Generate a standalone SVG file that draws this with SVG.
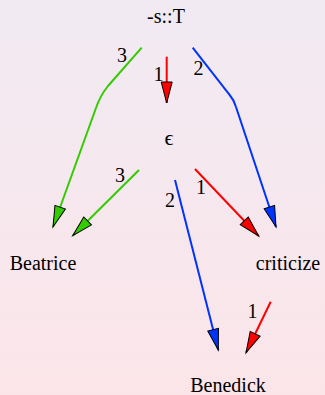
<svg xmlns="http://www.w3.org/2000/svg" width="325" height="395" viewBox="0 0 325 395">
<defs>
<linearGradient id="bg" x1="0" y1="0" x2="0" y2="1">
<stop offset="0" stop-color="#F1EAF3"/>
<stop offset="1" stop-color="#FBE5E9"/>
</linearGradient>
<marker id="ag" markerUnits="userSpaceOnUse" markerWidth="24" markerHeight="14" refX="21" refY="6.5" orient="auto" overflow="visible"><path d="M0,1 L21,6.5 L0,12 Z" fill="#33CC00" stroke="#000" stroke-width="1"/></marker>
<marker id="ab" markerUnits="userSpaceOnUse" markerWidth="24" markerHeight="14" refX="21" refY="6.5" orient="auto" overflow="visible"><path d="M0,1 L21,6.5 L0,12 Z" fill="#0033FF" stroke="#000" stroke-width="1"/></marker>
<marker id="ar" markerUnits="userSpaceOnUse" markerWidth="24" markerHeight="14" refX="21" refY="6.5" orient="auto" overflow="visible"><path d="M0,1 L21,6.5 L0,12 Z" fill="#FF0000" stroke="#000" stroke-width="1"/></marker>
</defs>
<style>
.t{font-family:'Liberation Serif','DejaVu Serif',serif;font-size:20px;fill:#000;text-anchor:middle}
.eps{font-size:22px}
.e{fill:none;stroke-width:2}
.g{stroke:#33CC00;marker-end:url(#ag)}
.b{stroke:#0033FF;marker-end:url(#ab)}
.r{stroke:#FF0000;marker-end:url(#ar)}
</style>
<rect width="325" height="395" fill="url(#bg)"/>
<g id="connectors">
<path class="e g" d="M141.7,47.7 L108,86 Q100,96 96,108 L53,227"/>
<path class="e b" d="M192.7,47.7 L229,94 Q234,100 236,107 L276,227"/>
<path class="e r" d="M166.7,56.7 L166.7,103"/>
<path class="e g" d="M139,170 L72.7,235.7"/>
<path class="e r" d="M195,169 L258.7,236"/>
<path class="e b" d="M175,180 L218.3,350"/>
<path class="e r" d="M270.7,301.7 L246,352.7"/>
<text class="t" x="122" y="62">3</text>
<text class="t" x="158.5" y="81">1</text>
<text class="t" x="198.5" y="75">2</text>
<text class="t" x="120" y="182">3</text>
<text class="t" x="201" y="194">1</text>
<text class="t" x="170" y="207">2</text>
<text class="t" x="252.5" y="318">1</text>
</g>
<g id="n-sT"><text class="t" x="166" y="23">-s::T</text></g>
<g id="n-eps"><text class="t eps" x="169" y="145">ϵ</text></g>
<g id="n-beatrice"><text class="t" x="43" y="270">Beatrice</text></g>
<g id="n-criticize"><text class="t" x="288" y="270">criticize</text></g>
<g id="n-benedick"><text class="t" x="228" y="392">Benedick</text></g>
</svg>
